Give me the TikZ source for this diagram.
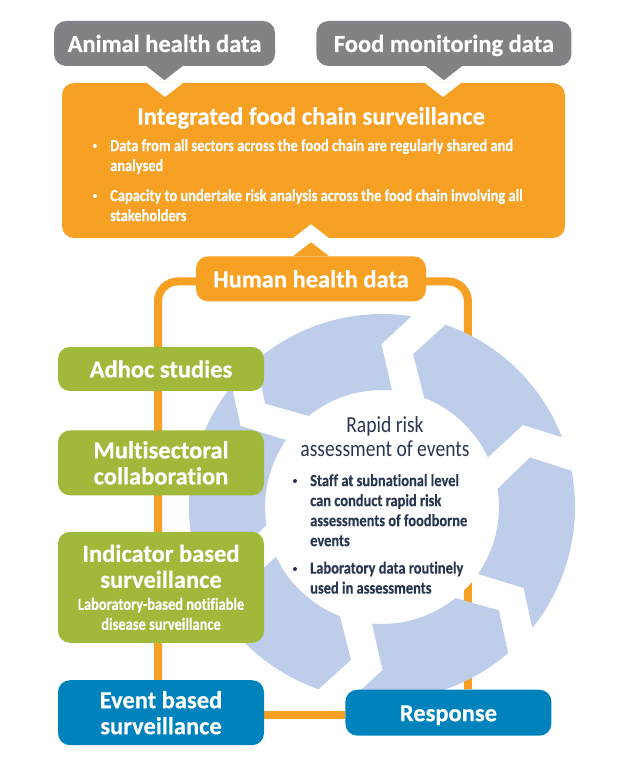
\documentclass[tikz,border=0pt]{standalone}
\usepackage{fontspec}
\setmainfont{Carlito}[BoldFeatures={FakeBold=0.4},Ligatures=NoCommon]
\newfontfamily\narrowfont{Carlito}[FakeStretch=0.85,BoldFeatures={FakeStretch=0.85,FakeBold=0.3},Ligatures=NoCommon]
\usetikzlibrary{positioning, backgrounds, calc}
\definecolor{chainorange}{HTML}{F6A024}
\definecolor{datagrey}{HTML}{808285}
\definecolor{studygreen}{HTML}{A1B93B}
\definecolor{eventblue}{HTML}{0082BC}
\definecolor{wheelblue}{HTML}{BDCDEA}
\definecolor{darktext}{HTML}{2A3650}
\newcommand{\headfont}{\fontsize{24.5}{26}\selectfont\bfseries}
\newcommand{\listfont}{\fontsize{17}{20}\selectfont\narrowfont\bfseries}
\tikzstyle{box}=[rectangle,rounded corners=12pt,inner sep=0pt,align=center,text=white,font=\headfont]
\tikzstyle{oneline}=[text height=19pt,text depth=2pt]
\tikzstyle{datagreybox}=[box,oneline,fill=datagrey,minimum height=45pt]
\tikzstyle{greenbox}=[box,fill=studygreen,minimum width=206pt]
\tikzstyle{bluebox}=[box,fill=eventblue,minimum width=206pt]
\tikzstyle{link}=[draw=chainorange,line width=8pt,rounded corners=20pt]
\tikzstyle{item}=[inner sep=0pt,align=left,anchor=north west,font=\listfont]
\tikzstyle{dot}=[circle,inner sep=0pt,minimum size=4pt]

\begin{document}
\begin{tikzpicture}[x=1pt,y=1pt]
    \useasboundingbox (0,0) rectangle (629,759);

    % data sources and the chain box
    \node[datagreybox, minimum width=221pt] (animal) at (164.5,715.5) {Animal health data};
    \node[datagreybox, minimum width=255pt, right=41pt of animal] (food) {Food monitoring data};
    \node[box, fill=chainorange, minimum width=503pt, minimum height=155pt] (chain) at (313.5,598.5) {};
    \node[box, oneline, fill=chainorange, minimum width=230pt, minimum height=45pt, below=18pt of chain, xshift=-2.5pt] (human) {Human health data};

    \fill[datagrey] ([xshift=-18pt]animal.south) -- ++(18,-14) -- ++(18,14) -- cycle;
    \fill[datagrey] ([xshift=-18pt]food.south) -- ++(18,-14) -- ++(18,14) -- cycle;
    \fill[white] (147,676) -- (165,662) -- (183,676) -- cycle;
    \fill[white] (425,676) -- (443,662) -- (461,676) -- cycle;
    \fill[white] ([xshift=-20.5pt]chain.south) -- ++(18,14) -- ++(18,-14) -- cycle;
    \fill[chainorange] ([xshift=-18pt]human.north) -- ++(18,14) -- ++(18,-14) -- cycle;

    \node[text=white, font=\fontsize{24.7}{26}\selectfont\bfseries] (chaintitle) at (311,641) {Integrated food chain surveillance};
    \node[item, text=white] (chainone) at (110,620) {\listfont Data from all sectors across the food chain are regularly shared and\\\listfont analysed};
    \node[item, text=white, below=15pt of chainone.south west, anchor=north west] (chaintwo) {\listfont Capacity to undertake risk analysis across the food chain involving all\\\listfont stakeholders};
    \node[dot, fill=white] (dotone) at (95,613) {};
    \node[dot, fill=white] (dottwo) at (95,563) {};

    % boxes on the left
    \node[greenbox, oneline, minimum height=44pt] (adhoc) at (161,390) {Adhoc studies};
    \node[greenbox, minimum height=65pt, below=39pt of adhoc] (multi) {Multisectoral\\collaboration};
    \node[greenbox, minimum height=111pt, below=36pt of multi] (indicator) {Indicator based\\surveillance\\[-4pt]\listfont Laboratory-based notifiable\\[-6pt]\listfont disease surveillance};
    \node[bluebox, minimum height=65pt, below=37pt of indicator] (event) {Event based\\surveillance};
    \node[bluebox, oneline, minimum height=46pt, right=81pt of event] (response) {Response};

    % wheel text
    \coordinate (hub) at (382,252);
    \node[text=darktext, align=center, font=\fontsize{23}{24}\selectfont\narrowfont] (wheeltitle) at (385,322) {Rapid risk\\assessment of events};
    \node[item, text=darktext] (wheelone) at (310,285) {\listfont Staff at subnational level\\\listfont can conduct rapid risk\\\listfont assessments of foodborne\\\listfont events};
    \node[item, text=darktext, below=15pt of wheelone.south west, anchor=north west] (wheeltwo) {\listfont Laboratory data routinely\\\listfont used in assessments};
    \node[dot, fill=darktext] (dotthree) at (295,278) {};
    \node[dot, fill=darktext] (dotfour) at (295,190) {};

    \begin{pgfonlayer}{background}
        \draw[link] ([yshift=-2.5pt]human.west) -| ([xshift=-3pt]event.north);
        \draw[link] ([yshift=-2.5pt]human.east) -| ([xshift=19.5pt]response.north);
        \draw[link] ([yshift=-2pt]event.east) -- ([yshift=-2pt]response.west);
        \fill[white] (hub) circle (117);
        \begin{scope}[shift={(hub)}]
            \foreach \tip in {21.2,81.2,...,321.2}
                \fill[wheelblue] (\tip+49.6:193) arc[start angle=\tip+49.6,end angle=\tip,radius=193]
                    -- (\tip+9:163) -- (\tip+3.9:117)
                    arc[start angle=\tip+3.9,end angle=\tip+47.7,radius=117]
                    -- (\tip+57.3:156) -- cycle;
        \end{scope}
    \end{pgfonlayer}
\end{tikzpicture}
\end{document}
